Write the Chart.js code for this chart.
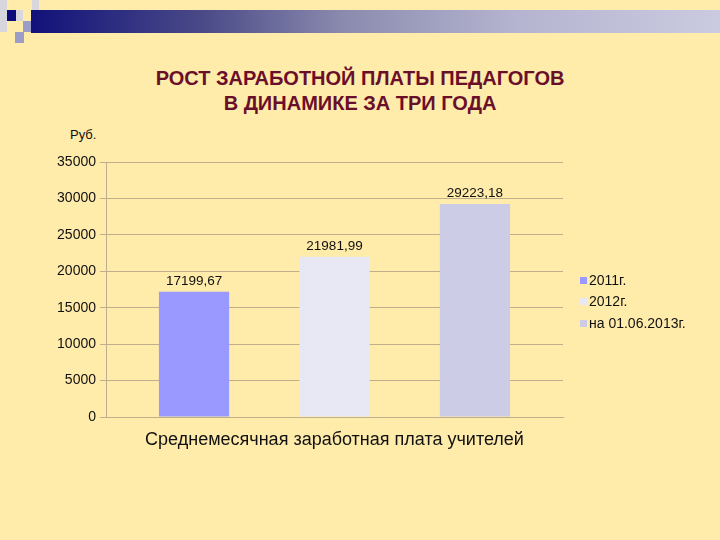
<!DOCTYPE html>
<html>
<head>
<meta charset="utf-8">
<script src="https://cdn.jsdelivr.net/npm/chart.js@4"></script>
<style>
  html, body { margin: 0; padding: 0; }
  body { width: 720px; height: 540px; background: #FFEBAA; position: relative; overflow: hidden;
         font-family: "Liberation Sans", Arial, sans-serif; }
  .sq { position: absolute; }
  #bar { position: absolute; left: 31px; top: 10px; width: 689px; height: 23px;
         background: linear-gradient(to right, #11117A 0%, #4A4A88 25%, #8A8AAE 45%, #B4B4D0 70%, #CACAE0 100%); }
  #title { position: absolute; left: 0; width: 720px; top: 66px; text-align: center;
           color: #6A0F2A; font-weight: bold; font-size: 20px; line-height: 25px; }
  #rub { position: absolute; left: 70px; top: 127px; font-size: 13px; color: #111; }
  canvas { position: absolute; left: 0; top: 0; }
</style>
</head>
<body>
<div class="sq" style="left:0;top:0;width:7px;height:32px;background:#D6D6DC"></div>
<div class="sq" style="left:7px;top:10px;width:9px;height:11px;background:#0C0C7A"></div>
<div class="sq" style="left:16px;top:10px;width:7px;height:11px;background:#D8D8DC"></div>
<div class="sq" style="left:32px;top:0;width:7px;height:10px;background:#D8D8DC"></div>
<div class="sq" style="left:32px;top:10px;width:7px;height:11px;background:#9C9CC8"></div>
<div class="sq" style="left:23px;top:21px;width:8px;height:11px;background:#9C9CC8"></div>
<div class="sq" style="left:15px;top:32px;width:9px;height:11px;background:#9C9CC8"></div>
<div id="bar"></div>
<div id="title">РОСТ ЗАРАБОТНОЙ ПЛАТЫ ПЕДАГОГОВ<br>В ДИНАМИКЕ ЗА ТРИ ГОДА</div>
<div id="rub">Руб.</div>
<canvas id="c" width="720" height="540"></canvas>
<script>
const categories = ["Среднемесячная заработная плата учителей"];
const seriesNames = ["2011г.", "2012г.", "на 01.06.2013г."];
const series2011 = [17199.67];
const series2012 = [21981.99];
const series2013 = [29223.18];
const seriesColors = ["#9999FF", "#E8E8F4", "#CCCCE6"];

const fontFamily = "'Liberation Sans', Arial, sans-serif";

// value labels above bars, comma as decimal separator
const valueLabels = {
  id: "valueLabels",
  afterDatasetsDraw(chart) {
    const ctx = chart.ctx;
    ctx.save();
    ctx.font = "13.5px " + fontFamily;
    ctx.fillStyle = "#111";
    ctx.textAlign = "center";
    ctx.textBaseline = "bottom";
    chart.data.datasets.forEach((ds, i) => {
      chart.getDatasetMeta(i).data.forEach((bar, j) => {
        const txt = ds.data[j].toFixed(2).replace(".", ",");
        ctx.fillText(txt, bar.x, bar.y - 4);
      });
    });
    ctx.restore();
  }
};

// legend on the right, drawn next to the plot
const sideLegend = {
  id: "sideLegend",
  afterDraw(chart) {
    const ctx = chart.ctx;
    const x = chart.chartArea.right + 17;
    const ys = [280, 301, 323];
    ctx.save();
    ctx.font = "14px " + fontFamily;
    ctx.textBaseline = "middle";
    chart.data.datasets.forEach((ds, i) => {
      ctx.fillStyle = ds.backgroundColor;
      ctx.fillRect(x, ys[i] - 3, 7, 7);
      ctx.fillStyle = "#111";
      ctx.fillText(ds.label, x + 9, ys[i] + 1);
    });
    ctx.restore();
  }
};

new Chart(document.getElementById("c"), {
  type: "bar",
  data: {
    labels: categories,
    datasets: [
      { label: seriesNames[0], data: series2011, backgroundColor: seriesColors[0] },
      { label: seriesNames[1], data: series2012, backgroundColor: seriesColors[1] },
      { label: seriesNames[2], data: series2013, backgroundColor: seriesColors[2] }
    ]
  },
  options: {
    responsive: false,
    animation: false,
    devicePixelRatio: 1,
    layout: { padding: { left: 40, right: 157, top: 162, bottom: 86 } },
    datasets: { bar: { categoryPercentage: 0.922, barPercentage: 0.5 } },
    plugins: { legend: { display: false }, tooltip: { enabled: false } },
    scales: {
      y: {
        min: 0, max: 35000,
        ticks: { stepSize: 5000, color: "#111", font: { size: 14, family: fontFamily }, padding: 4,
                 callback: (v) => String(v) },
        grid: { color: "#BFAE8C", tickLength: 6 },
        border: { color: "#BFAE8C" },
        afterFit(scale) { scale.width = 66; }
      },
      x: {
        ticks: { color: "#111", font: { size: 18, family: fontFamily }, padding: 4 },
        grid: { display: false },
        border: { color: "#BFAE8C" },
        afterFit(scale) { scale.height = 37; }
      }
    }
  },
  plugins: [valueLabels, sideLegend]
});
</script>
</body>
</html>
